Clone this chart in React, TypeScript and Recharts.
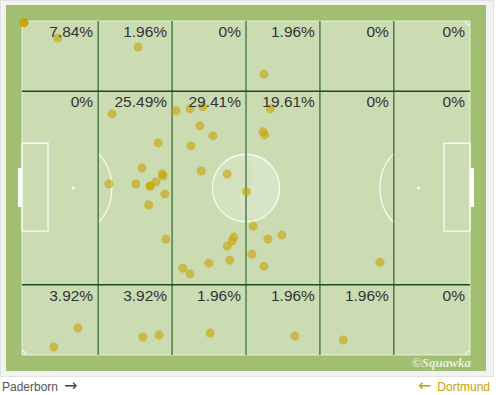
import React from 'react';
import {
  ScatterChart, Scatter, XAxis, YAxis, ZAxis, ReferenceArea, ReferenceLine, ReferenceDot,
} from 'recharts';

const homeTeam = 'Paderborn';
const awayTeam = 'Dortmund';

// pitch is 0-100 both ways, x along the length, y across (top = 0)
const zoneX = [0, 17, 33.5, 50, 66.5, 83, 100];
const zoneY = [0, 21, 79, 100];

const topRowPct = ['7.84%', '1.96%', '0%', '1.96%', '0%', '0%'];
const midRowPct = ['0%', '25.49%', '29.41%', '19.61%', '0%', '0%'];
const bottomRowPct = ['3.92%', '3.92%', '1.96%', '1.96%', '1.96%', '0%'];

const touches: [number, number][] = [
  [0.45, 0.5], [0.45, 0.5], [0.45, 0.5], [8.0, 5.1], [25.9, 7.8], [54.0, 15.9],
  [20.1, 27.8], [34.4, 26.9], [37.5, 26.3], [40.4, 25.7], [39.7, 31.4], [42.6, 34.4],
  [37.7, 37.4], [30.4, 36.5], [26.8, 44.0], [31.3, 45.8], [31.5, 46.4], [19.4, 48.8],
  [25.4, 48.8], [28.6, 49.4], [28.6, 49.4], [29.9, 48.2], [31.9, 51.8], [28.3, 55.1],
  [32.1, 65.3], [40.0, 44.9], [45.8, 45.8], [35.9, 74.0], [37.5, 75.7], [41.7, 72.5],
  [45.8, 67.4], [46.9, 65.9], [47.3, 64.7], [46.4, 71.6], [50.1, 51.1], [55.4, 26.3],
  [53.8, 33.2], [54.2, 34.1], [51.6, 61.4], [54.9, 65.3], [58.0, 64.1], [51.3, 69.8],
  [54.0, 73.4], [79.9, 72.2],
  [12.5, 91.9], [7.1, 97.6], [27.0, 94.6], [30.6, 94.0], [42.0, 93.4], [60.9, 94.3],
  [71.7, 95.5],
];

const spotL = 11.45;
const spotR = 88.5;
const arcRx = 8.6;
const arcRy = 13.5;

const font = '"Liberation Sans", Arial, sans-serif';
const line = 'rgba(255,255,255,0.9)';

const Oval = (p: any) => {
  const { x, y, width, height } = p;
  return (
    <ellipse cx={x + width / 2} cy={y + height / 2} rx={width / 2} ry={height / 2}
      fill="none" stroke={line} strokeWidth={1.3} />
  );
};

const arcShape = (x1: number, x2: number, edge: number, right: boolean) => (p: any) => {
  const { x, y, width, height } = p;
  const cx = x + width / 2;
  const cy = y + height / 2;
  const rx = width / 2;
  const ry = height / 2;
  const ex = x + (width * (edge - x1)) / (x2 - x1);
  const t = (ex - cx) / rx;
  const dy = ry * Math.sqrt(Math.max(0, 1 - t * t));
  return (
    <path d={`M${ex},${cy - dy} A${rx},${ry} 0 0 ${right ? 0 : 1} ${ex},${cy + dy}`}
      fill="none" stroke={line} strokeWidth={1.2} />
  );
};

// quarter circle in a corner box; left/top say where the pitch corner sits
const cornerShape = (left: boolean, top: boolean) => (p: any) => {
  const { x, y, width, height } = p;
  const cx = left ? x : x + width;
  const cy = top ? y : y + height;
  const ax = left ? x + width : x;
  const by = top ? y + height : y;
  const sweep = left === top ? 1 : 0;
  return (
    <path d={`M${ax},${cy} A${width},${height} 0 0 ${sweep} ${cx},${by}`}
      fill="none" stroke={line} strokeWidth={1.2} />
  );
};

const Logo = (p: any) => {
  const { x, y, width, height } = p;
  const r = width / 2;
  const cx = x + r;
  const cy = y + height / 2;
  const h = r / 2;
  return (
    <g>
      <circle cx={cx} cy={cy} r={r} fill="#fff" fillOpacity={0.16} />
      <path
        transform={`rotate(-35 ${cx} ${cy})`}
        d={`M${cx},${cy - r} A${r},${r} 0 0 1 ${cx},${cy + r} A${h},${h} 0 0 1 ${cx},${cy} A${h},${h} 0 0 0 ${cx},${cy - r} Z`}
        fill="#fff" fillOpacity={0.12} />
    </g>
  );
};

const arrow = { fontFamily: '"DejaVu Sans", sans-serif', fontSize: 16, lineHeight: '14px' };

export default function App() {
  const rows = [topRowPct, midRowPct, bottomRowPct];
  const data = touches.map(([x, y]) => ({ x, y }));

  return (
    <div style={{ position: 'absolute', left: 0, top: 0, width: 496, height: 395, background: '#fff', fontFamily: font, overflow: 'hidden' }}>
      <div style={{ position: 'absolute', left: 0, top: 0, width: 492, height: 375, background: '#f2f2f2', border: '1px solid #e2e2e2' }} />
      <div style={{ position: 'absolute', left: 6, top: 5, width: 480, height: 366, background: '#a0bf70' }} />
      <div style={{ position: 'absolute', left: 0, top: 0 }}>
        <ScatterChart width={496} height={395} margin={{ top: 21, right: 26, bottom: 40, left: 22 }}>
          <XAxis type="number" dataKey="x" domain={[0, 100]} hide />
          <YAxis type="number" dataKey="y" domain={[0, 100]} reversed hide />
          <ZAxis range={[34, 34]} />

          <ReferenceArea x1={0} x2={100} y1={0} y2={100} fill="#cbdcb3" fillOpacity={1}
            stroke="rgba(255,255,255,0.7)" strokeWidth={1} />
          <ReferenceArea x1={42.5} x2={57.5} y1={42.8} y2={57.4} shape={Logo} />
          <ReferenceArea x1={42.5} x2={57.5} y1={39.9} y2={60.1} shape={Oval} />
          <ReferenceArea x1={0} x2={5.8} y1={36.6} y2={62.9} fill="none" stroke={line} strokeWidth={1.3} />
          <ReferenceArea x1={94.2} x2={100} y1={36.6} y2={62.9} fill="none" stroke={line} strokeWidth={1.3} />
          <ReferenceArea x1={spotL - arcRx} x2={spotL + arcRx} y1={50 - arcRy} y2={50 + arcRy}
            shape={arcShape(spotL - arcRx, spotL + arcRx, zoneX[1], false)} />
          <ReferenceArea x1={spotR - arcRx} x2={spotR + arcRx} y1={50 - arcRy} y2={50 + arcRy}
            shape={arcShape(spotR - arcRx, spotR + arcRx, zoneX[5], true)} />
          <ReferenceArea x1={0} x2={0.9} y1={0} y2={1.2} shape={cornerShape(true, true)} />
          <ReferenceArea x1={99.1} x2={100} y1={0} y2={1.2} shape={cornerShape(false, true)} />
          <ReferenceArea x1={0} x2={0.9} y1={98.8} y2={100} shape={cornerShape(true, false)} />
          <ReferenceArea x1={99.1} x2={100} y1={98.8} y2={100} shape={cornerShape(false, false)} />
          <ReferenceArea x1={-0.9} x2={0} y1={44} y2={55.7} fill="#fff" fillOpacity={1} ifOverflow="visible" />
          <ReferenceArea x1={100} x2={100.9} y1={44} y2={55.7} fill="#fff" fillOpacity={1} ifOverflow="visible" />
          <ReferenceDot x={spotL} y={50} r={1.4} fill="#fff" stroke="none" />
          <ReferenceDot x={spotR} y={50} r={1.4} fill="#fff" stroke="none" />

          {[1, 2, 4, 5].map((i) => (
            <ReferenceLine key={`v${i}`} x={zoneX[i]} stroke="#3d6d3d" strokeWidth={1.3} />
          ))}
          <ReferenceLine x={zoneX[3]} stroke="#6d996d" strokeWidth={2} />
          <ReferenceLine y={zoneY[1]} stroke="#1b4a1b" strokeWidth={1.5} />
          <ReferenceLine y={zoneY[2]} stroke="#1b4a1b" strokeWidth={1.5} />

          <Scatter data={data} fill="#c9a200" fillOpacity={0.6} isAnimationActive={false} />

          {rows.map((row, r) => row.map((pct, c) => (
            <ReferenceArea key={`z${r}-${c}`} x1={zoneX[c]} x2={zoneX[c + 1]} y1={zoneY[r]} y2={zoneY[r + 1]}
              fill="none" stroke="none"
              label={{ value: pct, position: 'insideTopRight', offset: 5, fill: '#333', fontSize: 15.5, fontFamily: font }} />
          )))}
        </ScatterChart>
      </div>
      <div style={{ position: 'absolute', right: 25, top: 355, textAlign: 'right', color: 'rgba(255,255,255,0.75)', fontFamily: '"Liberation Serif", serif', fontStyle: 'italic', fontWeight: 'bold', fontSize: 13, whiteSpace: 'nowrap' }}>
        ©Squawka
      </div>
      <div style={{ position: 'absolute', left: 2, top: 379, fontSize: 12, lineHeight: '14px', color: '#555', whiteSpace: 'nowrap' }}>
        {homeTeam}
        <span style={{ ...arrow, color: '#444', marginLeft: 6 }}>→</span>
      </div>
      <div style={{ position: 'absolute', right: 6, top: 379, fontSize: 12, lineHeight: '14px', color: '#c9a200', whiteSpace: 'nowrap' }}>
        <span style={{ ...arrow, marginRight: 6 }}>←</span>
        {awayTeam}
      </div>
    </div>
  );
}
